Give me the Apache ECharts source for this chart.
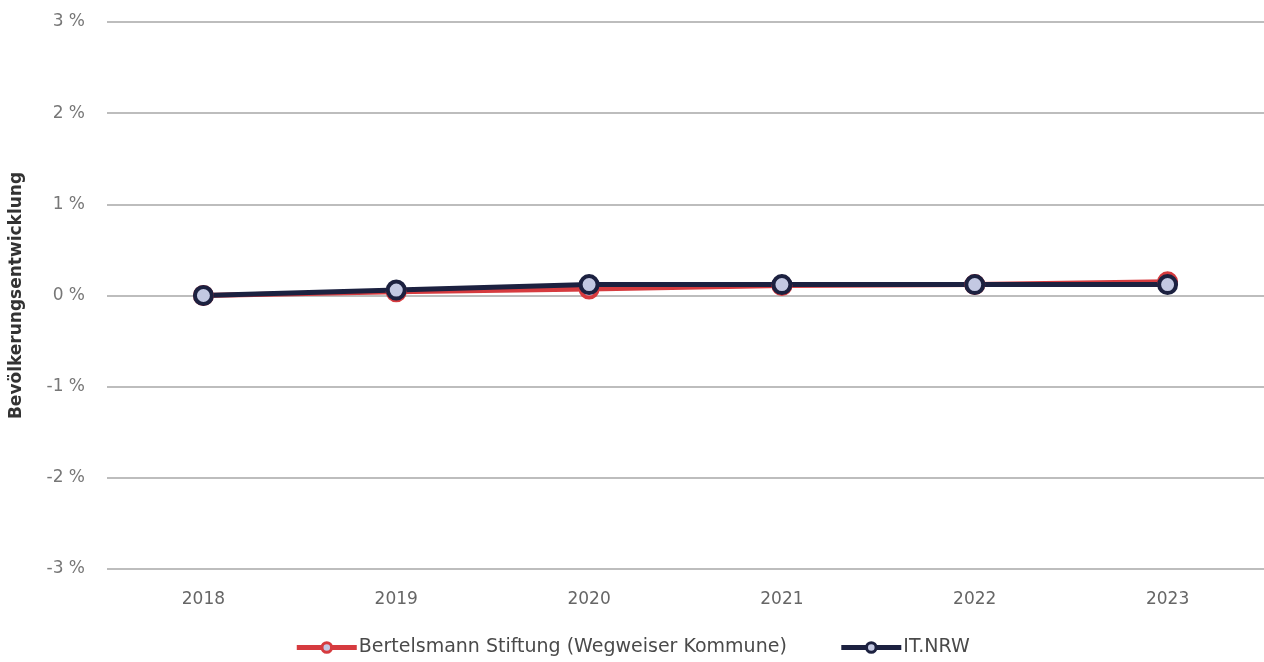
<!DOCTYPE html>
<html>
<head>
<meta charset="utf-8">
<script src="https://cdn.jsdelivr.net/npm/echarts@6/dist/echarts.min.js"></script>
<style>
  html, body { margin: 0; padding: 0; background: #ffffff; }
  #chart { width: 1264px; height: 662px; }
</style>
</head>
<body>
<div id="chart"></div>
<script>
// Jahre und Bevölkerungsentwicklung (in %) gegenüber 2018
const years = ['2018', '2019', '2020', '2021', '2022', '2023'];
const bertelsmann = [0.0, 0.04, 0.07, 0.11, 0.12, 0.15];
const itnrw = [0.0, 0.06, 0.12, 0.12, 0.12, 0.12];
const yTicks = [-3, -2, -1, 0, 1, 2, 3];

const chart = echarts.init(document.getElementById('chart'));
const font = '"DejaVu Sans", "Noto Sans", sans-serif';

function lineSeries(name, data, color) {
  return {
    name: name,
    type: 'line',
    data: data,
    symbol: 'circle',
    symbolSize: 17,
    lineStyle: { color: color, width: 5 },
    itemStyle: { color: '#c3c8e2', borderColor: color, borderWidth: 4 },
    emphasis: { disabled: true },
    z: 3
  };
}

chart.setOption({
  animation: false,
  textStyle: { fontFamily: font },
  grid: { left: 107, right: 0, top: 22, bottom: 93 },
  legend: {
    bottom: 0,
    left: 'center',
    itemWidth: 60,
    itemHeight: 12,
    itemGap: 52,
    lineStyle: { width: 5 },
    itemStyle: { borderWidth: 3 },
    textStyle: { color: '#4a4a4a', fontSize: 19, fontFamily: font, padding: [0, 0, 0, -3] },
    data: ['Bertelsmann Stiftung (Wegweiser Kommune)', 'IT.NRW']
  },
  xAxis: {
    type: 'category',
    data: years,
    boundaryGap: true,
    axisLine: { show: false },
    axisTick: { show: false },
    axisLabel: { color: '#666', fontSize: 17, margin: 22 }
  },
  yAxis: {
    type: 'value',
    min: yTicks[0],
    max: yTicks[yTicks.length - 1],
    interval: 1,
    name: 'Bevölkerungsentwicklung',
    nameLocation: 'middle',
    nameGap: 82,
    nameTextStyle: { color: '#333', fontSize: 17, fontWeight: 'bold', fontFamily: font },
    axisLine: { show: false },
    axisTick: { show: false },
    axisLabel: {
      color: '#777',
      fontSize: 17,
      margin: 22,
      formatter: v => v + ' %'
    },
    splitLine: { lineStyle: { color: '#bdbdbd', width: 2 } }
  },
  series: [
    lineSeries('Bertelsmann Stiftung (Wegweiser Kommune)', bertelsmann, '#d63b3f'),
    lineSeries('IT.NRW', itnrw, '#1c2140')
  ]
});
</script>
</body>
</html>
